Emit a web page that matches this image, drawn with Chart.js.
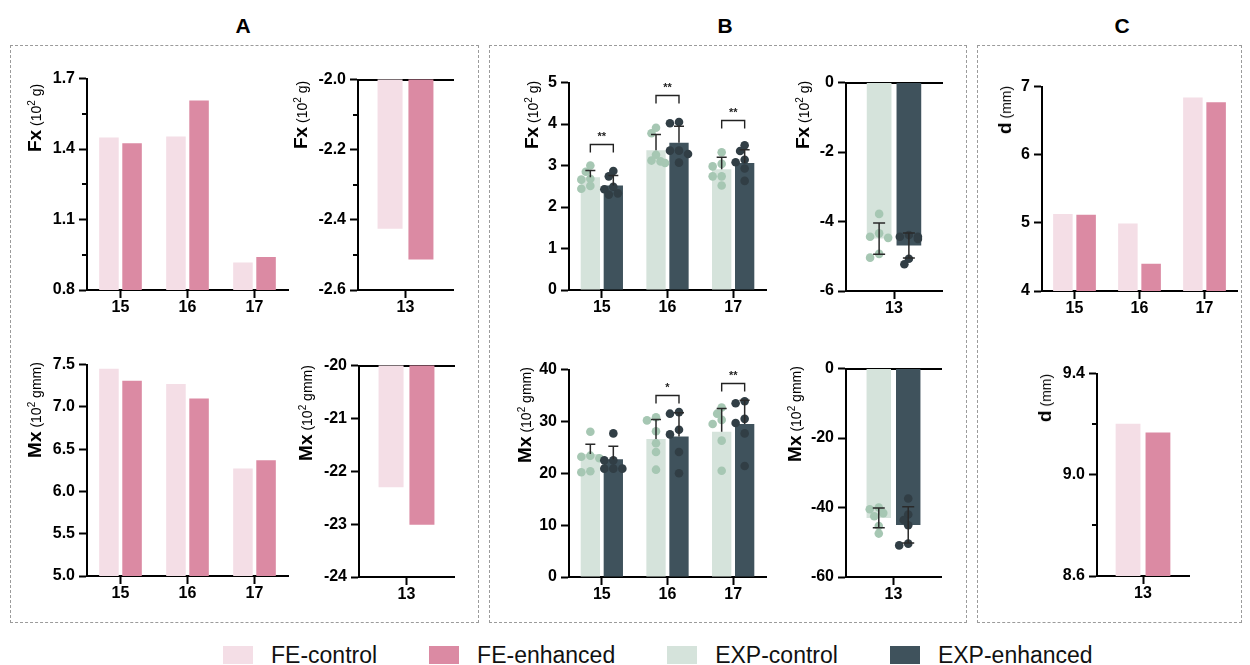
<!DOCTYPE html>
<html>
<head>
<meta charset="utf-8">
<script src="https://cdn.jsdelivr.net/npm/chart.js@4.4.1/dist/chart.umd.min.js"></script>
<style>
  body { margin: 0; background: #fff; font-family: "Liberation Sans", Arial, sans-serif; }
  #wrap { position: relative; width: 1250px; height: 665px; overflow: hidden; }
  .box { position: absolute; border: 1px dashed #9b9b9b; }
  .ttl { position: absolute; font-weight: bold; font-size: 21px; transform: translate(-50%, -50%); }
  canvas { position: absolute; }
  .ylab { position: absolute; transform: translate(-50%, -50%) rotate(-90deg); white-space: nowrap; font-size: 14px; color: #000; }
  .ylab b { font-size: 19px; }
  .ylab sup { font-size: 10px; }
  .legend { position: absolute; left: 223px; top: 644px; height: 22px; display: flex; align-items: center; font-size: 23px; color: #111; }
  .legend .sw { width: 30px; height: 18px; margin-right: 18px; }
  .legend .it { display: flex; align-items: center; margin-right: 52px; }
</style>
</head>
<body>
<div id="wrap">
  <div class="box" style="left:10px;top:45px;width:467px;height:576px"></div>
  <div class="box" style="left:489px;top:45px;width:476px;height:576px"></div>
  <div class="box" style="left:977px;top:45px;width:263px;height:576px"></div>
  <div class="ttl" style="left:243px;top:26px">A</div>
  <div class="ttl" style="left:725px;top:26px">B</div>
  <div class="ttl" style="left:1122px;top:26px">C</div>

  <canvas id="a1"></canvas><canvas id="a2"></canvas><canvas id="a3"></canvas><canvas id="a4"></canvas>
  <canvas id="b1"></canvas><canvas id="b2"></canvas><canvas id="b3"></canvas><canvas id="b4"></canvas>
  <canvas id="c1"></canvas><canvas id="c2"></canvas>

  <div class="ylab" style="left:35px;top:118px"><b>Fx</b> (10<sup>2</sup> g)</div>
  <div class="ylab" style="left:301px;top:115px"><b>Fx</b> (10<sup>2</sup> g)</div>
  <div class="ylab" style="left:35px;top:410px"><b>Mx</b> (10<sup>2</sup> gmm)</div>
  <div class="ylab" style="left:306px;top:413px"><b>Mx</b> (10<sup>2</sup> gmm)</div>
  <div class="ylab" style="left:532px;top:115px"><b>Fx</b> (10<sup>2</sup> g)</div>
  <div class="ylab" style="left:803px;top:115px"><b>Fx</b> (10<sup>2</sup> g)</div>
  <div class="ylab" style="left:525px;top:415px"><b>Mx</b> (10<sup>2</sup> gmm)</div>
  <div class="ylab" style="left:795px;top:414px"><b>Mx</b> (10<sup>2</sup> gmm)</div>
  <div class="ylab" style="left:1005px;top:110px"><b>d</b> (mm)</div>
  <div class="ylab" style="left:1045px;top:398px"><b>d</b> (mm)</div>

  <div class="legend" id="legend"></div>
</div>
<script>
// categories and legend
const posCats = ["15", "16", "17"];
const negCats = ["13"];
const legendLabels = ["FE-control", "FE-enhanced", "EXP-control", "EXP-enhanced"];

// A: finite element forces / moments
const feFxCtrl = [1.449, 1.453, 0.917];
const feFxEnh = [1.425, 1.607, 0.94];
const feFx13Ctrl = [-2.425];
const feFx13Enh = [-2.513];
const feMxCtrl = [7.45, 7.27, 6.27];
const feMxEnh = [7.31, 7.10, 6.37];
const feMx13Ctrl = [-22.30];
const feMx13Enh = [-23.01];

// B: experiment means, sd, single measurements, significance
const expFxCtrl = [2.72, 3.37, 2.91];
const expFxCtrlSd = [0.16, 0.38, 0.29];
const expFxEnh = [2.52, 3.55, 3.06];
const expFxEnhSd = [0.24, 0.40, 0.32];
const expFxCtrlPts = [[3.00, 2.85, 2.68, 2.66, 2.51, 2.44], [3.91, 3.78, 3.26, 3.12, 3.10, 3.06], [3.32, 3.04, 2.98, 2.74, 2.74, 2.52]];
const expFxEnhPts = [[2.87, 2.74, 2.49, 2.43, 2.33, 2.30], [4.05, 4.02, 3.36, 3.36, 3.28, 3.07], [3.49, 3.35, 3.14, 3.08, 2.93, 2.63]];
const expFxSigLevel = [3.52, 4.69, 4.09];
const expFxSigMark = ["**", "**", "**"];

const expFx13Ctrl = [-4.49];
const expFx13CtrlSd = [0.45];
const expFx13Enh = [-4.69];
const expFx13EnhSd = [0.36];
const expFx13CtrlPts = [[-3.78, -4.34, -4.44, -4.47, -4.93, -5.04]];
const expFx13EnhPts = [[-4.39, -4.44, -4.44, -4.50, -5.07, -5.23]];

const expMxCtrl = [23.7, 26.6, 28.0];
const expMxCtrlSd = [1.9, 3.8, 4.5];
const expMxEnh = [22.7, 27.1, 29.5];
const expMxEnhSd = [2.5, 4.6, 4.6];
const expMxCtrlPts = [[28.0, 23.4, 23.2, 22.9, 20.4, 20.2], [30.8, 30.2, 28.1, 25.8, 24.1, 20.7], [32.7, 31.5, 30.3, 29.5, 26.3, 20.5]];
const expMxEnhPts = [[27.7, 22.5, 22.5, 20.9, 20.9, 20.9], [31.8, 31.5, 28.4, 27.5, 24.1, 20.0], [33.9, 33.5, 30.5, 29.7, 27.7, 21.4]];
const expMxSigLevel = [null, 35.1, 37.5];
const expMxSigMark = ["", "*", "**"];

const expMx13Ctrl = [-43.0];
const expMx13CtrlSd = [2.85];
const expMx13Enh = [-45.0];
const expMx13EnhSd = [5.2];
const expMx13CtrlPts = [[-40.0, -40.5, -41.6, -42.5, -45.3, -47.5]];
const expMx13EnhPts = [[-37.4, -42.0, -43.6, -45.1, -50.4, -50.9]];

// C: displacement
const feDCtrl = [5.13, 4.99, 6.84];
const feDEnh = [5.12, 4.40, 6.77];
const feD13Ctrl = [9.202];
const feD13Enh = [9.167];

// y tick values
const aFxTicks = [0.8, 1.1, 1.4, 1.7];
const aFx13Ticks = [-2.6, -2.4, -2.2, -2.0];
const aMxTicks = [5.0, 5.5, 6.0, 6.5, 7.0, 7.5];
const aMx13Ticks = [-24, -23, -22, -21, -20];
const bFxTicks = [0, 1, 2, 3, 4, 5];
const bFx13Ticks = [-6, -4, -2, 0];
const bMxTicks = [0, 10, 20, 30, 40];
const bMx13Ticks = [-60, -40, -20, 0];
const cDTicks = [4, 5, 6, 7];
const cD13Ticks = [8.6, 9.0, 9.4];

const colors = ["#f4dee6", "#db8aa3", "#d5e3db", "#3f525c"];
const dotColors = ["#a6c7b3", "#313e45"];

const YW = 62, XH = 30, PT = 10, PR = 6;
const tickFont = { family: "'Liberation Sans', Arial, sans-serif", size: 16, weight: "bold" };

function place(id, L) {
  const c = document.getElementById(id);
  const w = YW + (L.right - L.axisX) + PR;
  const h = PT + (L.bottom - L.top) + XH;
  c.width = w; c.height = h;
  c.style.width = w + "px"; c.style.height = h + "px";
  c.style.left = (L.axisX - YW) + "px";
  c.style.top = (L.top - PT) + "px";
  return c;
}

// short unlabeled ticks between the labelled ones
const minorTicks = {
  id: "minorTicks",
  afterDraw(chart, args, opts) {
    if (!opts || !opts.on) return;
    const y = chart.scales.y, ctx = chart.ctx;
    const vals = y.ticks.map((t) => t.value);
    ctx.save();
    ctx.strokeStyle = "#000";
    ctx.lineWidth = 2;
    for (let i = 0; i < vals.length - 1; i += 1) {
      const py = Math.round(y.getPixelForValue((vals[i] + vals[i + 1]) / 2));
      ctx.beginPath();
      ctx.moveTo(y.right - 5, py);
      ctx.lineTo(y.right, py);
      ctx.stroke();
    }
    ctx.restore();
  }
};

function swarm(values, yScale, cx, r) {
  const placed = [];
  const step = r * 1.05;
  const order = [0, -1, 1, -2, 2];
  values.forEach((v) => {
    const py = yScale.getPixelForValue(v);
    for (const k of order) {
      const px = cx + k * step;
      const ok = placed.every((p) => Math.hypot(p.x - px, p.y - py) >= r * 1.6);
      if (ok || k === 2) { placed.push({ x: px, y: py }); break; }
    }
  });
  return placed;
}

// dots, error bars and significance brackets for the experiment panels
const expMarks = {
  id: "expMarks",
  afterDatasetsDraw(chart, args, opts) {
    if (!opts || !opts.pts) return;
    const y = chart.scales.y, ctx = chart.ctx;
    ctx.save();
    [0, 1].forEach((di) => {
      const meta = chart.getDatasetMeta(di);
      meta.data.forEach((bar, i) => {
        const mean = chart.data.datasets[di].data[i];
        const sd = opts.sd[di][i];
        ctx.fillStyle = dotColors[di];
        swarm(opts.pts[di][i], y, bar.x, 4.3).forEach((p) => {
          ctx.beginPath();
          ctx.arc(p.x, p.y, 4.3, 0, Math.PI * 2);
          ctx.fill();
        });
        ctx.strokeStyle = "#2a2a2a";
        ctx.lineWidth = 1.5;
        const top = y.getPixelForValue(mean + sd);
        const bot = y.getPixelForValue(mean < 0 ? mean - sd : mean);
        const cap = mean < 0 ? 6 : 5;
        ctx.beginPath();
        ctx.moveTo(bar.x, bot); ctx.lineTo(bar.x, top);
        ctx.moveTo(bar.x - cap, top); ctx.lineTo(bar.x + cap, top);
        if (mean < 0) { ctx.moveTo(bar.x - cap, bot); ctx.lineTo(bar.x + cap, bot); }
        ctx.stroke();
      });
    });
    if (opts.sig) {
      const m0 = chart.getDatasetMeta(0), m1 = chart.getDatasetMeta(1);
      opts.sig.levels.forEach((lv, i) => {
        if (lv === null) return;
        const x1 = m0.data[i].x, x2 = m1.data[i].x;
        const py = Math.round(y.getPixelForValue(lv)) + 0.5;
        ctx.strokeStyle = "#222";
        ctx.lineWidth = 1.4;
        ctx.beginPath();
        ctx.moveTo(x1, py + 8); ctx.lineTo(x1, py); ctx.lineTo(x2, py); ctx.lineTo(x2, py + 8);
        ctx.stroke();
        ctx.fillStyle = "#222";
        ctx.font = "bold 11px 'Liberation Sans', Arial, sans-serif";
        ctx.textAlign = "center";
        ctx.textBaseline = "bottom";
        ctx.fillText(opts.sig.marks[i], (x1 + x2) / 2, py - 2);
      });
    }
    ctx.restore();
  }
};

Chart.register(minorTicks, expMarks);

function barChart(id, L, o) {
  const canvas = place(id, L);
  const axisLine = { color: "#000", width: 2 };
  const tickGrid = { drawOnChartArea: false, offset: false, tickLength: 8, tickWidth: 2, tickColor: "#000" };
  const scales = {
    x: {
      offset: true,
      grid: tickGrid,
      border: axisLine,
      ticks: { color: "#000", font: tickFont, padding: 0, maxRotation: 0 },
      afterFit: (s) => { s.height = XH; }
    },
    y: {
      min: o.ticks[0],
      max: o.ticks[o.ticks.length - 1],
      grid: tickGrid,
      border: axisLine,
      ticks: { color: "#000", font: tickFont, padding: 4, callback: (v) => o.fmt(v) },
      afterBuildTicks: (s) => { s.ticks = o.ticks.map((v) => ({ value: v })); },
      afterFit: (s) => { s.width = YW; }
    }
  };
  if (o.topLine) {
    scales.xTop = {
      type: "category",
      position: "top",
      grid: { display: false },
      ticks: { display: false },
      border: axisLine,
      afterFit: (s) => { s.height = 0; }
    };
  }
  const ci = o.exp ? 2 : 0;
  return new Chart(canvas, {
    type: "bar",
    data: {
      labels: o.labels,
      datasets: [
        { label: legendLabels[ci], data: o.ctrl, backgroundColor: colors[ci], categoryPercentage: o.cp, barPercentage: o.bp },
        { label: legendLabels[ci + 1], data: o.enh, backgroundColor: colors[ci + 1], categoryPercentage: o.cp, barPercentage: o.bp }
      ]
    },
    options: {
      responsive: false,
      animation: false,
      layout: { padding: { top: PT, right: PR, left: 0, bottom: 0 } },
      plugins: {
        legend: { display: false },
        tooltip: { enabled: false },
        minorTicks: { on: !!o.minor },
        expMarks: o.marks || {}
      },
      scales
    }
  });
}

const f1 = (v) => v.toFixed(1);
const f0 = (v) => String(Math.round(v));

barChart("a1", { axisX: 87, top: 75, bottom: 290, right: 288 }, { labels: posCats, ctrl: feFxCtrl, enh: feFxEnh, ticks: aFxTicks, fmt: f1, minor: true, cp: 0.69, bp: 0.845 });
barChart("a2", { axisX: 358, top: 76, bottom: 290, right: 453 }, { labels: negCats, ctrl: feFx13Ctrl, enh: feFx13Enh, ticks: aFx13Ticks, fmt: f1, minor: true, topLine: true, cp: 0.65, bp: 0.81 });
barChart("a3", { axisX: 87, top: 361, bottom: 576, right: 288 }, { labels: posCats, ctrl: feMxCtrl, enh: feMxEnh, ticks: aMxTicks, fmt: f1, cp: 0.69, bp: 0.845 });
barChart("a4", { axisX: 359, top: 362, bottom: 577, right: 454 }, { labels: negCats, ctrl: feMx13Ctrl, enh: feMx13Enh, ticks: aMx13Ticks, fmt: f0, topLine: true, cp: 0.65, bp: 0.81 });

barChart("b1", { axisX: 569, top: 79, bottom: 290, right: 766 }, {
  labels: posCats, ctrl: expFxCtrl, enh: expFxEnh, ticks: bFxTicks, fmt: f0, exp: true, cp: 0.70, bp: 0.84,
  marks: { sd: [expFxCtrlSd, expFxEnhSd], pts: [expFxCtrlPts, expFxEnhPts], sig: { levels: expFxSigLevel, marks: expFxSigMark } }
});
barChart("b2", { axisX: 846, top: 79, bottom: 291, right: 942 }, {
  labels: negCats, ctrl: expFx13Ctrl, enh: expFx13Enh, ticks: bFx13Ticks, fmt: f0, exp: true, topLine: true, cp: 0.62, bp: 0.83,
  marks: { sd: [expFx13CtrlSd, expFx13EnhSd], pts: [expFx13CtrlPts, expFx13EnhPts] }
});
barChart("b3", { axisX: 569, top: 366, bottom: 577, right: 766 }, {
  labels: posCats, ctrl: expMxCtrl, enh: expMxEnh, ticks: bMxTicks, fmt: f0, exp: true, cp: 0.70, bp: 0.84,
  marks: { sd: [expMxCtrlSd, expMxEnhSd], pts: [expMxCtrlPts, expMxEnhPts], sig: { levels: expMxSigLevel, marks: expMxSigMark } }
});
barChart("b4", { axisX: 846, top: 365, bottom: 577, right: 941 }, {
  labels: negCats, ctrl: expMx13Ctrl, enh: expMx13Enh, ticks: bMx13Ticks, fmt: f0, exp: true, topLine: true, cp: 0.62, bp: 0.83,
  marks: { sd: [expMx13CtrlSd, expMx13EnhSd], pts: [expMx13CtrlPts, expMx13EnhPts] }
});

barChart("c1", { axisX: 1042, top: 83, bottom: 291, right: 1237 }, { labels: posCats, ctrl: feDCtrl, enh: feDEnh, ticks: cDTicks, fmt: f0, cp: 0.715, bp: 0.84 });
barChart("c2", { axisX: 1097, top: 370, bottom: 576, right: 1189 }, { labels: negCats, ctrl: feD13Ctrl, enh: feD13Enh, ticks: cD13Ticks, fmt: f1, minor: true, cp: 0.65, bp: 0.83 });

// shared legend
const legend = document.getElementById("legend");
legendLabels.forEach((name, i) => {
  const item = document.createElement("div");
  item.className = "it";
  item.innerHTML = '<div class="sw" style="background:' + colors[i] + '"></div><span>' + name + "</span>";
  legend.appendChild(item);
});
</script>
</body>
</html>
